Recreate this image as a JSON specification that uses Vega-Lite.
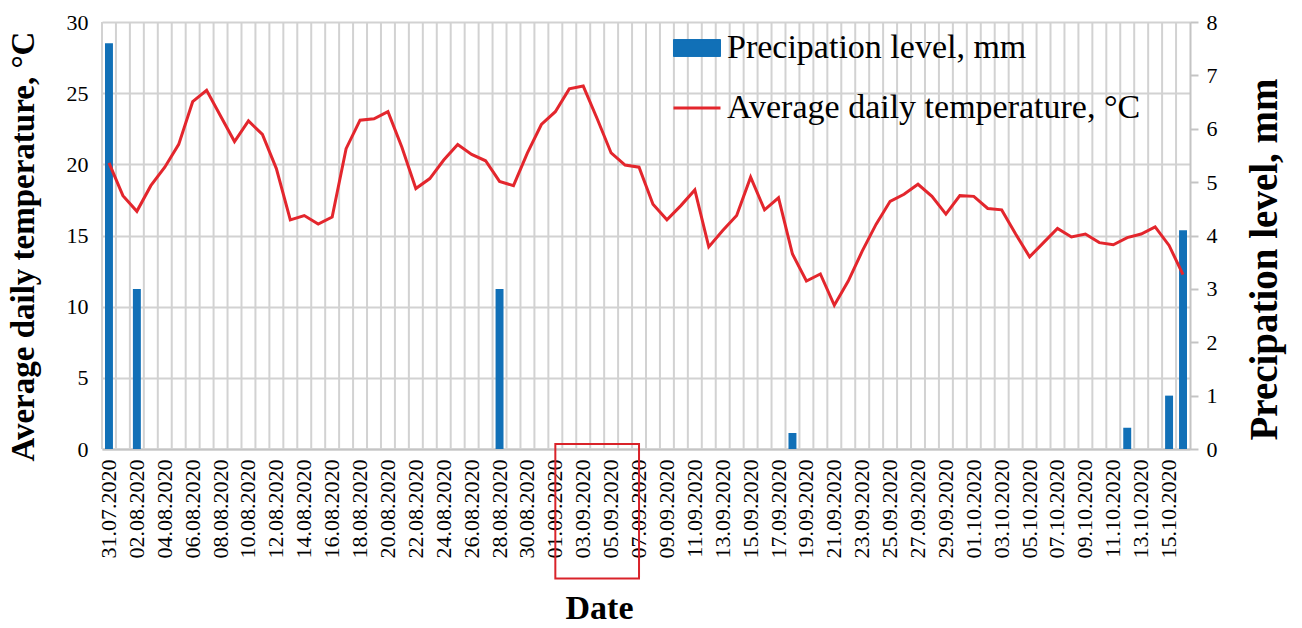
{
  "$schema": "https://vega.github.io/schema/vega-lite/v6.json",
  "width": 1088,
  "height": 427,
  "autosize": {"type": "none"},
  "padding": {"left": 102, "top": 22, "right": 112, "bottom": 179},
  "background": "white",
  "config": {
    "font": "Liberation Serif",
    "view": {"stroke": null},
    "axis": {"labelColor": "black", "titleColor": "black", "labelFont": "Liberation Serif", "titleFont": "Liberation Serif"}
  },
  "data": {
    "values": [
      {"date": "31.07.2020", "temp": 20.1, "precip": 7.6},
      {"date": "01.08.2020", "temp": 17.8, "precip": 0},
      {"date": "02.08.2020", "temp": 16.7, "precip": 3.0},
      {"date": "03.08.2020", "temp": 18.5, "precip": 0},
      {"date": "04.08.2020", "temp": 19.8, "precip": 0},
      {"date": "05.08.2020", "temp": 21.4, "precip": 0},
      {"date": "06.08.2020", "temp": 24.4, "precip": 0},
      {"date": "07.08.2020", "temp": 25.2, "precip": 0},
      {"date": "08.08.2020", "temp": 23.4, "precip": 0},
      {"date": "09.08.2020", "temp": 21.6, "precip": 0},
      {"date": "10.08.2020", "temp": 23.05, "precip": 0},
      {"date": "11.08.2020", "temp": 22.1, "precip": 0},
      {"date": "12.08.2020", "temp": 19.7, "precip": 0},
      {"date": "13.08.2020", "temp": 16.1, "precip": 0},
      {"date": "14.08.2020", "temp": 16.4, "precip": 0},
      {"date": "15.08.2020", "temp": 15.8, "precip": 0},
      {"date": "16.08.2020", "temp": 16.3, "precip": 0},
      {"date": "17.08.2020", "temp": 21.1, "precip": 0},
      {"date": "18.08.2020", "temp": 23.1, "precip": 0},
      {"date": "19.08.2020", "temp": 23.2, "precip": 0},
      {"date": "20.08.2020", "temp": 23.7, "precip": 0},
      {"date": "21.08.2020", "temp": 21.2, "precip": 0},
      {"date": "22.08.2020", "temp": 18.3, "precip": 0},
      {"date": "23.08.2020", "temp": 19.0, "precip": 0},
      {"date": "24.08.2020", "temp": 20.3, "precip": 0},
      {"date": "25.08.2020", "temp": 21.4, "precip": 0},
      {"date": "26.08.2020", "temp": 20.7, "precip": 0},
      {"date": "27.08.2020", "temp": 20.25, "precip": 0},
      {"date": "28.08.2020", "temp": 18.8, "precip": 3.0},
      {"date": "29.08.2020", "temp": 18.5, "precip": 0},
      {"date": "30.08.2020", "temp": 20.8, "precip": 0},
      {"date": "31.08.2020", "temp": 22.8, "precip": 0},
      {"date": "01.09.2020", "temp": 23.7, "precip": 0},
      {"date": "02.09.2020", "temp": 25.3, "precip": 0},
      {"date": "03.09.2020", "temp": 25.5, "precip": 0},
      {"date": "04.09.2020", "temp": 23.2, "precip": 0},
      {"date": "05.09.2020", "temp": 20.8, "precip": 0},
      {"date": "06.09.2020", "temp": 19.95, "precip": 0},
      {"date": "07.09.2020", "temp": 19.8, "precip": 0},
      {"date": "08.09.2020", "temp": 17.2, "precip": 0},
      {"date": "09.09.2020", "temp": 16.1, "precip": 0},
      {"date": "10.09.2020", "temp": 17.1, "precip": 0},
      {"date": "11.09.2020", "temp": 18.2, "precip": 0},
      {"date": "12.09.2020", "temp": 14.2, "precip": 0},
      {"date": "13.09.2020", "temp": 15.35, "precip": 0},
      {"date": "14.09.2020", "temp": 16.4, "precip": 0},
      {"date": "15.09.2020", "temp": 19.1, "precip": 0},
      {"date": "16.09.2020", "temp": 16.8, "precip": 0},
      {"date": "17.09.2020", "temp": 17.65, "precip": 0},
      {"date": "18.09.2020", "temp": 13.7, "precip": 0.3},
      {"date": "19.09.2020", "temp": 11.8, "precip": 0},
      {"date": "20.09.2020", "temp": 12.3, "precip": 0},
      {"date": "21.09.2020", "temp": 10.1, "precip": 0},
      {"date": "22.09.2020", "temp": 11.8, "precip": 0},
      {"date": "23.09.2020", "temp": 13.9, "precip": 0},
      {"date": "24.09.2020", "temp": 15.8, "precip": 0},
      {"date": "25.09.2020", "temp": 17.4, "precip": 0},
      {"date": "26.09.2020", "temp": 17.9, "precip": 0},
      {"date": "27.09.2020", "temp": 18.6, "precip": 0},
      {"date": "28.09.2020", "temp": 17.75, "precip": 0},
      {"date": "29.09.2020", "temp": 16.5, "precip": 0},
      {"date": "30.09.2020", "temp": 17.8, "precip": 0},
      {"date": "01.10.2020", "temp": 17.75, "precip": 0},
      {"date": "02.10.2020", "temp": 16.9, "precip": 0},
      {"date": "03.10.2020", "temp": 16.8, "precip": 0},
      {"date": "04.10.2020", "temp": 15.1, "precip": 0},
      {"date": "05.10.2020", "temp": 13.5, "precip": 0},
      {"date": "06.10.2020", "temp": 14.5, "precip": 0},
      {"date": "07.10.2020", "temp": 15.5, "precip": 0},
      {"date": "08.10.2020", "temp": 14.9, "precip": 0},
      {"date": "09.10.2020", "temp": 15.1, "precip": 0},
      {"date": "10.10.2020", "temp": 14.5, "precip": 0},
      {"date": "11.10.2020", "temp": 14.35, "precip": 0},
      {"date": "12.10.2020", "temp": 14.85, "precip": 0.4},
      {"date": "13.10.2020", "temp": 15.1, "precip": 0},
      {"date": "14.10.2020", "temp": 15.6, "precip": 0},
      {"date": "15.10.2020", "temp": 14.3, "precip": 1.0},
      {"date": "16.10.2020", "temp": 12.25, "precip": 4.1}
    ]
  },
  "layer": [
    {
      "mark": {"type": "rule", "color": "#d2d2d2", "strokeWidth": 2},
      "encoding": {
        "x": {
          "field": "date",
          "type": "nominal",
          "sort": null,
          "bandPosition": 0,
          "scale": {"paddingInner": 0, "paddingOuter": 0},
          "axis": {
            "orient": "bottom",
            "labelAngle": 270,
            "labelFontSize": 22,
            "labelPadding": 10,
            "labelOverlap": false,
            "labelExpr": "(slice(datum.value,3,5) == '08' ? toNumber(slice(datum.value,0,2)) % 2 == 0 : toNumber(slice(datum.value,0,2)) % 2 == 1) ? datum.label : ''",
            "ticks": false,
            "grid": false,
            "domain": true,
            "domainColor": "#c4c4c4",
            "domainWidth": 2,
            "title": "Date",
            "titleFontSize": 34,
            "titleFontWeight": "bold",
            "titlePadding": 33,
            "titleX": 497
          }
        }
      }
    },
    {
      "mark": {"type": "bar", "width": {"band": 0.57}},
      "encoding": {
        "x": {"field": "date", "type": "nominal", "sort": null},
        "y": {
          "field": "precip",
          "type": "quantitative",
          "scale": {"domain": [0, 8], "nice": false},
          "axis": {
            "orient": "right",
            "values": [0, 1, 2, 3, 4, 5, 6, 7, 8],
            "title": "Precipation level, mm",
            "titleAngle": 270,
            "titleBaseline": "top",
            "titleFontSize": 39,
            "titleFontWeight": "bold",
            "titlePadding": 28,
            "titleY": 237,
            "labelFontSize": 22,
            "labelPadding": 8,
            "ticks": true,
            "tickSize": 8,
            "tickColor": "#c4c4c4",
            "tickWidth": 2,
            "domain": true,
            "domainColor": "#c4c4c4",
            "domainWidth": 2,
            "grid": false
          }
        },
        "color": {
          "datum": "Precipation level, mm",
          "type": "nominal",
          "scale": {
            "domain": ["Precipation level, mm", "Average daily temperature, °C"],
            "range": ["#1170b7", "#e3262d"]
          },
          "legend": {
            "orient": "none",
            "legendX": 578,
            "legendY": 9,
            "title": null,
            "padding": 0,
            "labelFontSize": 34,
            "labelFont": "Liberation Serif",
            "labelColor": "black",
            "labelLimit": 700,
            "labelOffset": 13,
            "symbolSize": 2209,
            "rowPadding": 26,
            "encode": {
              "symbols": {
                "update": {
                  "shape": {"signal": "datum.value === 'Precipation level, mm' ? 'M-1,-0.36H1V0.36H-1Z' : 'M-1,0H1'"},
                  "fill": {"signal": "datum.value === 'Precipation level, mm' ? '#1170b7' : 'transparent'"},
                  "stroke": {"signal": "datum.value === 'Precipation level, mm' ? '#6ab8e6' : '#e3262d'"},
                  "strokeWidth": {"signal": "datum.value === 'Precipation level, mm' ? 1 : 3"},
                  "opacity": {"value": 1}
                }
              }
            }
          }
        }
      }
    },
    {
      "mark": {"type": "line", "strokeWidth": 3},
      "encoding": {
        "x": {"field": "date", "type": "nominal", "sort": null},
        "y": {
          "field": "temp",
          "type": "quantitative",
          "scale": {"domain": [0, 30], "nice": false},
          "axis": {
            "orient": "left",
            "values": [0, 5, 10, 15, 20, 25, 30],
            "title": "Average daily temperature, °C",
            "titleFontSize": 33,
            "titleFontWeight": "bold",
            "titlePadding": 26,
            "titleY": 224,
            "labelFontSize": 22,
            "labelPadding": 14,
            "ticks": false,
            "domain": false,
            "grid": true,
            "gridColor": "#d2d2d2",
            "gridWidth": 2
          }
        },
        "color": {"datum": "Average daily temperature, °C", "type": "nominal"}
      }
    },
    {
      "data": {"values": [{"from": "01.09.2020", "to": "07.09.2020", "top": 0.35, "bottom": -9.1}]},
      "mark": {"type": "rect", "fill": "transparent", "stroke": "#d9232a", "strokeWidth": 2},
      "encoding": {
        "x": {"field": "from", "type": "nominal", "sort": null, "bandPosition": 0.5},
        "x2": {"field": "to", "bandPosition": 0.5},
        "y": {"field": "top", "type": "quantitative", "scale": {"domain": [0, 30], "nice": false}, "axis": null},
        "y2": {"field": "bottom"}
      }
    }
  ],
  "resolve": {"scale": {"y": "independent"}}
}
